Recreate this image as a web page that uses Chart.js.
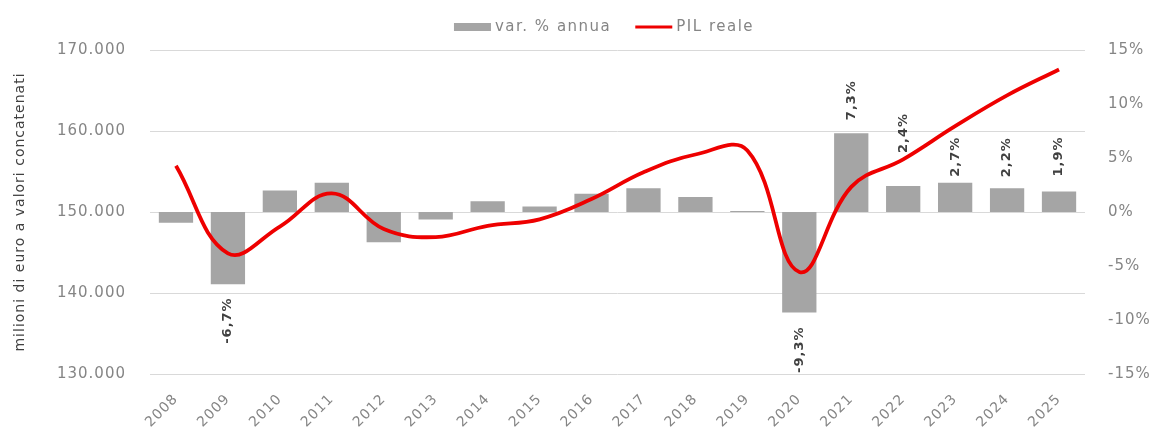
<!DOCTYPE html>
<html lang="it">
<head>
<meta charset="utf-8">
<title>PIL reale e variazione annua</title>
<script src="https://cdn.jsdelivr.net/npm/chart.js@4"></script>
<style>
  html, body { margin: 0; padding: 0; background: #fff; }
  #wrap { width: 1157px; height: 435px; position: relative; }
</style>
</head>
<body>
<div id="wrap"><canvas id="pilChart"></canvas></div>
<script>
const years = ["2008", "2009", "2010", "2011", "2012", "2013", "2014", "2015", "2016",
  "2017", "2018", "2019", "2020", "2021", "2022", "2023", "2024", "2025"];

// milioni di euro, valori concatenati
const pilReale = [155700, 144900, 148200, 152300, 147900, 146900, 148300, 149100, 151600,
  154900, 157100, 157600, 142600, 153100, 156500, 160600, 164400, 167600];

// variazione % annua
const varAnnua = [-1.0, -6.7, 2.0, 2.7, -2.8, -0.7, 1.0, 0.5, 1.7,
  2.2, 1.4, 0.1, -9.3, 7.3, 2.4, 2.7, 2.2, 1.9];

const leftTicks = [130000, 140000, 150000, 160000, 170000];
const rightTicks = [-15, -10, -5, 0, 5, 10, 15];

const FONT = "'DejaVu Sans', Verdana, sans-serif";
const GREY_TXT = "#858585";
const BAR_GREY = "#a5a5a5";
const RED = "#ee0000";

const fmtThousands = v => String(v).replace(/\B(?=(\d{3})+(?!\d))/g, ".");
const fmtPct = v => v.toFixed(1).replace(".", ",") + "%";

// etichette solo su alcuni anni, distanza in px dalla fine della barra
const labelGaps = { 1: 13, 12: 14, 13: 13, 14: 33, 15: 6, 16: 11, 17: 15 };

// testo un po' spaziato su tutto il grafico
const spacing = {
  id: "spacing",
  beforeDraw(chart) { chart.ctx.letterSpacing = "1px"; },
  afterDraw(chart) { chart.ctx.letterSpacing = "0px"; }
};

const barLabels = {
  id: "barLabels",
  afterDatasetsDraw(chart) {
    const idx = chart.data.datasets.findIndex(d => d.type === "bar");
    const meta = chart.getDatasetMeta(idx);
    const ctx = chart.ctx;
    ctx.save();
    ctx.font = "bold 13px " + FONT;
    ctx.fillStyle = "#404040";
    ctx.textBaseline = "middle";
    meta.data.forEach((bar, i) => {
      if (labelGaps[i] === undefined) return;
      const v = varAnnua[i];
      const gap = labelGaps[i];
      ctx.save();
      if (v >= 0) {
        ctx.translate(bar.x, bar.y - gap);
        ctx.rotate(-Math.PI / 2);
        ctx.textAlign = "left";
      } else {
        ctx.translate(bar.x, bar.y + gap);
        ctx.rotate(-Math.PI / 2);
        ctx.textAlign = "right";
      }
      ctx.fillText(fmtPct(v), 0, 0);
      ctx.restore();
    });
    ctx.restore();
  }
};

// legenda in alto, disegnata a mano
const topLegend = {
  id: "topLegend",
  afterDraw(chart) {
    const ctx = chart.ctx;
    const y = 27;
    ctx.save();
    ctx.letterSpacing = "1.5px";
    ctx.font = "15px " + FONT;
    ctx.textBaseline = "middle";
    ctx.textAlign = "left";
    const t1 = "var. % annua", t2 = "PIL reale";
    const sym = 37, gapTxt = 4, gapItem = 24;
    const total = sym + gapTxt + ctx.measureText(t1).width + gapItem + sym + gapTxt + ctx.measureText(t2).width;
    let x = 604 - total / 2;
    ctx.fillStyle = BAR_GREY;
    ctx.fillRect(x, y - 4, sym, 8);
    x += sym + gapTxt;
    ctx.fillStyle = GREY_TXT;
    ctx.fillText(t1, x, y);
    x += ctx.measureText(t1).width + gapItem;
    ctx.strokeStyle = RED;
    ctx.lineWidth = 3;
    ctx.beginPath();
    ctx.moveTo(x, y);
    ctx.lineTo(x + sym, y);
    ctx.stroke();
    x += sym + gapTxt;
    ctx.fillText(t2, x, y);
    ctx.restore();
  }
};

new Chart(document.getElementById("pilChart"), {
  data: {
    labels: years,
    datasets: [
      {
        type: "line",
        label: "PIL reale",
        data: pilReale,
        yAxisID: "y",
        borderColor: RED,
        borderWidth: 3.8,
        pointRadius: 0,
        tension: 0.4,
        fill: false,
        order: 0
      },
      {
        type: "bar",
        label: "var. % annua",
        data: varAnnua,
        yAxisID: "y1",
        backgroundColor: BAR_GREY,
        barPercentage: 0.66,
        categoryPercentage: 1,
        order: 1
      }
    ]
  },
  options: {
    responsive: true,
    maintainAspectRatio: false,
    animation: false,
    layout: { padding: { top: 50, left: 0, right: 0, bottom: 0 } },
    plugins: {
      legend: { display: false },
      tooltip: { enabled: false }
    },
    scales: {
      x: {
        offset: true,
        grid: { display: false, drawTicks: false },
        border: { display: false },
        ticks: {
          color: GREY_TXT,
          font: { family: FONT, size: 14 },
          minRotation: 45,
          maxRotation: 45,
          padding: 17
        },
        afterFit(scale) { scale.height = 61; }
      },
      y: {
        position: "left",
        min: 130000,
        max: 170000,
        afterBuildTicks(scale) { scale.ticks = leftTicks.map(v => ({ value: v })); },
        grid: { color: "#d9d9d9", lineWidth: 1, drawTicks: false },
        border: { display: false },
        ticks: {
          color: GREY_TXT,
          font: { family: FONT, size: 15 },
          padding: 24,
          callback: v => fmtThousands(v)
        },
        title: {
          display: true,
          text: "milioni di euro a valori concatenati",
          color: "#404040",
          font: { family: FONT, size: 14 },
          padding: { top: 12, bottom: 0 }
        },
        afterFit(scale) { scale.width = 150; }
      },
      y1: {
        position: "right",
        min: -15,
        max: 15,
        afterBuildTicks(scale) { scale.ticks = rightTicks.map(v => ({ value: v })); },
        grid: { display: false, drawTicks: false },
        border: { display: false },
        ticks: {
          color: GREY_TXT,
          font: { family: FONT, size: 15 },
          padding: 23,
          callback: v => v + "%"
        },
        afterFit(scale) { scale.width = 72; }
      }
    }
  },
  plugins: [spacing, barLabels, topLegend]
});
</script>
</body>
</html>
